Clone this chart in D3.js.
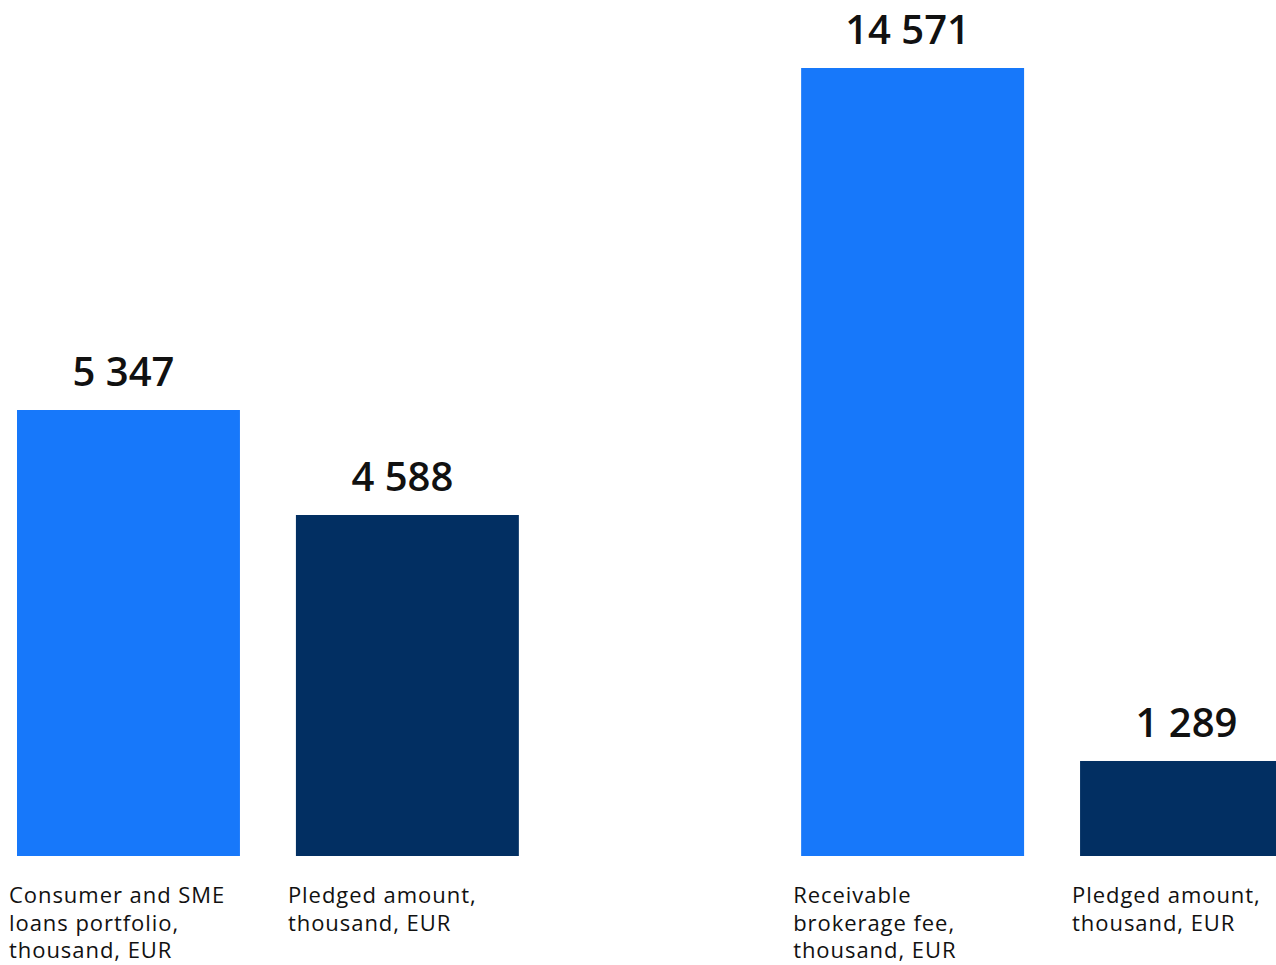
<!DOCTYPE html>
<html>
<head>
<meta charset="utf-8">
<script src="https://cdn.jsdelivr.net/npm/d3@7"></script>
<style>
  html, body { margin: 0; padding: 0; background: #ffffff; }
  svg { display: block; }
  .value { font-family: "Open Sans", sans-serif; font-weight: 600; font-size: 40px; fill: #111111; }
  .cat { font-family: "Open Sans", sans-serif; font-weight: 400; font-size: 22px; letter-spacing: 0.95px; fill: #111111; }
</style>
</head>
<body>
<svg id="chart" width="1276" height="965"></svg>
<script>
// Two comparisons: loan portfolio vs pledged amount, brokerage fee vs pledged amount
const groups = ["loans", "brokerage"];
const categories = [
  ["Consumer and SME", "loans portfolio,", "thousand, EUR"],
  ["Pledged amount,", "thousand, EUR"],
  ["Receivable", "brokerage fee,", "thousand, EUR"],
  ["Pledged amount,", "thousand, EUR"]
];
const values = [5347, 4588, 14571, 1289];
const barGroup = [0, 0, 1, 1];
const barKind = ["total", "pledged", "total", "pledged"];
const valueLabels = ["5 347", "4 588", "14 571", "1 289"];

// Each pair is drawn against its own value axis
const groupDomains = [[2123, 5347], [-532, 14571]];

const colors = { total: "#1778fa", pledged: "#022f62" };

const svg = d3.select("#chart");
const baseline = 856;
const groupTop = [410, 68];

const xGroup = d3.scaleBand()
  .domain(groups)
  .range([17, 1303])
  .paddingInner(0.36)
  .paddingOuter(0);

const xInner = d3.scaleBand()
  .domain(["total", "pledged"])
  .range([0, xGroup.bandwidth()])
  .paddingInner(0.2007)
  .paddingOuter(0);

const yScales = groupDomains.map((dom, i) =>
  d3.scaleLinear().domain(dom).range([baseline, groupTop[i]])
);

const data = values.map((v, i) => ({
  value: v,
  label: valueLabels[i],
  lines: categories[i],
  group: groups[barGroup[i]],
  y: yScales[barGroup[i]],
  kind: barKind[i]
}));

const barX = d => xGroup(d.group) + xInner(d.kind);

svg.selectAll("rect.bar")
  .data(data)
  .join("rect")
  .attr("class", "bar")
  .attr("x", barX)
  .attr("y", d => d.y(d.value))
  .attr("width", xInner.bandwidth())
  .attr("height", d => baseline - d.y(d.value))
  .attr("fill", d => colors[d.kind]);

svg.selectAll("text.value")
  .data(data)
  .join("text")
  .attr("class", "value")
  .attr("x", d => barX(d) + xInner.bandwidth() / 2 - 5)
  .attr("y", d => d.y(d.value) - 24)
  .attr("text-anchor", "middle")
  .text(d => d.label);

const cat = svg.selectAll("text.cat")
  .data(data)
  .join("text")
  .attr("class", "cat")
  .attr("y", baseline + 47);

cat.selectAll("tspan")
  .data(d => d.lines.map(t => ({ t, x: barX(d) - 8 })))
  .join("tspan")
  .attr("x", t => t.x)
  .attr("dy", (t, i) => i === 0 ? 0 : 27.5)
  .text(t => t.t);
</script>
</body>
</html>
